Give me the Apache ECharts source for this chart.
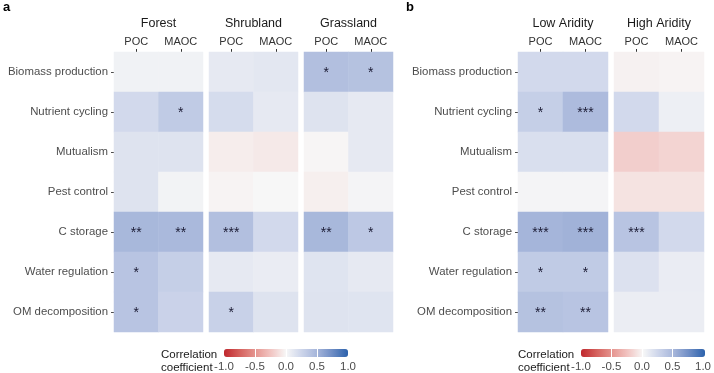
<!DOCTYPE html>
<html><head><meta charset="utf-8">
<script src="https://cdn.jsdelivr.net/npm/echarts@6/dist/echarts.min.js"></script>
<style>html,body{margin:0;padding:0;background:#fff}#c{width:714px;height:373px}</style>
</head><body><div id="c"></div>
<script>
const rows = ['Biomass production','Nutrient cycling','Mutualism','Pest control','C storage','Water regulation','OM decomposition'];
const cols = ['POC','MAOC'];
const facetsA = ['Forest','Shrubland','Grassland'];
const facetsB = ['Low Aridity','High Aridity'];

const forestPOC  = [0.04, 0.22, 0.15, 0.15, 0.48, 0.38, 0.38];
const forestMAOC = [0.04, 0.33, 0.15, 0.03, 0.47, 0.30, 0.27];
const forestPOCsig  = ['', '', '', '', '**', '*', '*'];
const forestMAOCsig = ['', '*', '', '', '**', '', ''];

const shrubPOC  = [0.10, 0.20, -0.05, -0.02, 0.42, 0.10, 0.28];
const shrubMAOC = [0.12, 0.10, -0.07, 0.00, 0.22, 0.08, 0.15];
const shrubPOCsig  = ['', '', '', '', '***', '', '*'];
const shrubMAOCsig = ['', '', '', '', '', '', ''];

const grassPOC  = [0.42, 0.15, -0.01, -0.04, 0.48, 0.14, 0.15];
const grassMAOC = [0.40, 0.10, 0.10, 0.02, 0.35, 0.10, 0.14];
const grassPOCsig  = ['*', '', '', '', '**', '', ''];
const grassMAOCsig = ['*', '', '', '', '*', '', ''];

const lowPOC  = [0.22, 0.30, 0.18, 0.02, 0.50, 0.33, 0.40];
const lowMAOC = [0.22, 0.45, 0.18, 0.02, 0.52, 0.33, 0.38];
const lowPOCsig  = ['', '*', '', '', '***', '*', '**'];
const lowMAOCsig = ['', '***', '', '', '***', '*', '**'];

const highPOC  = [-0.03, 0.22, -0.20, -0.10, 0.38, 0.16, 0.07];
const highMAOC = [-0.02, 0.06, -0.17, -0.10, 0.22, 0.08, 0.07];
const highPOCsig  = ['', '', '', '', '***', '', ''];
const highMAOCsig = ['', '', '', '', '', '', ''];

const legendTicks = [-1.0, -0.5, 0.0, 0.5, 1.0];

const FONT = 'Liberation Sans, Arial, sans-serif';
const palette = ['#c0272d','#d5615d','#e5948f','#f1c4c1','#f7f7f7','#cdd5ea','#a5b5da','#6d8cc4','#2c62ac'];

const facetData = [
  {name: facetsA[0], v: [forestPOC, forestMAOC], s: [forestPOCsig, forestMAOCsig], left: 114, width: 89, ylab: true},
  {name: facetsA[1], v: [shrubPOC, shrubMAOC],   s: [shrubPOCsig, shrubMAOCsig],   left: 209, width: 89, ylab: false},
  {name: facetsA[2], v: [grassPOC, grassMAOC],   s: [grassPOCsig, grassMAOCsig],   left: 304, width: 89, ylab: false},
  {name: facetsB[0], v: [lowPOC, lowMAOC],       s: [lowPOCsig, lowMAOCsig],       left: 518, width: 90, ylab: true},
  {name: facetsB[1], v: [highPOC, highMAOC],     s: [highPOCsig, highMAOCsig],     left: 614, width: 90, ylab: false}
];

const grid = [], xAxis = [], yAxis = [], series = [];
facetData.forEach((f, i) => {
  grid.push({left: f.left, width: f.width, top: 52, height: 280});
  xAxis.push({
    type: 'category', gridIndex: i, data: cols, position: 'top',
    name: f.name, nameLocation: 'middle', nameGap: 22,
    nameTextStyle: {fontFamily: FONT, fontSize: 12.5, color: '#1a1a1a'},
    axisLine: {show: false},
    axisTick: {show: true, alignWithLabel: true, length: 3, lineStyle: {color: '#333'}},
    axisLabel: {fontFamily: FONT, fontSize: 11, color: '#333', margin: 5, interval: 0},
    splitLine: {show: false}
  });
  yAxis.push({
    type: 'category', gridIndex: i, data: rows, inverse: true,
    axisLine: {show: false},
    axisTick: {show: f.ylab, alignWithLabel: true, length: 3, lineStyle: {color: '#4d4d4d'}},
    axisLabel: {show: f.ylab, fontFamily: FONT, fontSize: 11.4, color: '#4d4d4d', margin: 6},
    splitLine: {show: false}
  });
  const data = [];
  for (let c = 0; c < 2; c++) for (let r = 0; r < rows.length; r++) data.push([c, r, f.v[c][r], f.s[c][r]]);
  series.push({
    type: 'heatmap', xAxisIndex: i, yAxisIndex: i, data: data,
    encode: {x: 0, y: 1, value: 2},
    label: {show: true, formatter: p => p.data[3], fontFamily: FONT, fontSize: 14, color: '#1a1a33', offset: [0, 1]},
    itemStyle: {borderWidth: 0},
    emphasis: {disabled: true}
  });
});

// legend axes
const legendPos = [{left: 224, top: 349}, {left: 581, top: 349}];
legendPos.forEach((p, k) => {
  const gi = grid.length;
  grid.push({left: p.left, width: 124, top: p.top, height: 8});
  xAxis.push({
    type: 'value', gridIndex: gi, min: legendTicks[0], max: legendTicks[legendTicks.length-1], interval: 0.5,
    position: 'bottom', z: 10,
    axisLine: {show: false},
    axisTick: {show: true, inside: true, length: 8, customValues: legendTicks.slice(1, -1), lineStyle: {color: '#ffffff', width: 1}},
    axisLabel: {fontFamily: FONT, fontSize: 11.5, color: '#4d4d4d', margin: 4, formatter: v => v.toFixed(1),
                showMinLabel: true, showMaxLabel: true},
    splitLine: {show: false}
  });
  yAxis.push({type: 'value', gridIndex: gi, min: 0, max: 1, show: false});
  series.push({type: 'scatter', xAxisIndex: gi, yAxisIndex: gi, data: [], silent: true});
});

const option = {
  animation: false,
  textStyle: {fontFamily: FONT},
  grid, xAxis, yAxis, series,
  visualMap: [
    {type: 'continuous', min: -1, max: 1, dimension: 2, seriesIndex: [0,1,2], orient: 'horizontal',
     left: 224, top: 349, itemWidth: 8, itemHeight: 124, padding: 0, calculable: false, text: null,
     showLabel: false, inRange: {color: palette}, hoverLink: false},
    {type: 'continuous', min: -1, max: 1, dimension: 2, seriesIndex: [3,4], orient: 'horizontal',
     left: 581, top: 349, itemWidth: 8, itemHeight: 124, padding: 0, calculable: false, text: null,
     showLabel: false, inRange: {color: palette}, hoverLink: false}
  ],
  graphic: [
    {type: 'text', left: 3, top: 1, style: {text: 'a', font: 'bold 13px ' + FONT, fill: '#000'}},
    {type: 'text', left: 406, top: 1, style: {text: 'b', font: 'bold 13px ' + FONT, fill: '#000'}},
    {type: 'text', left: 161, top: 348, style: {text: 'Correlation\ncoefficient', font: '11.5px ' + FONT, fill: '#1a1a1a', lineHeight: 13}},
    {type: 'text', left: 518, top: 348, style: {text: 'Correlation\ncoefficient', font: '11.5px ' + FONT, fill: '#1a1a1a', lineHeight: 13}}
  ]
};
const chart = echarts.init(document.getElementById('c'), null, {renderer: 'canvas'});
chart.setOption(option);
</script></body></html>
